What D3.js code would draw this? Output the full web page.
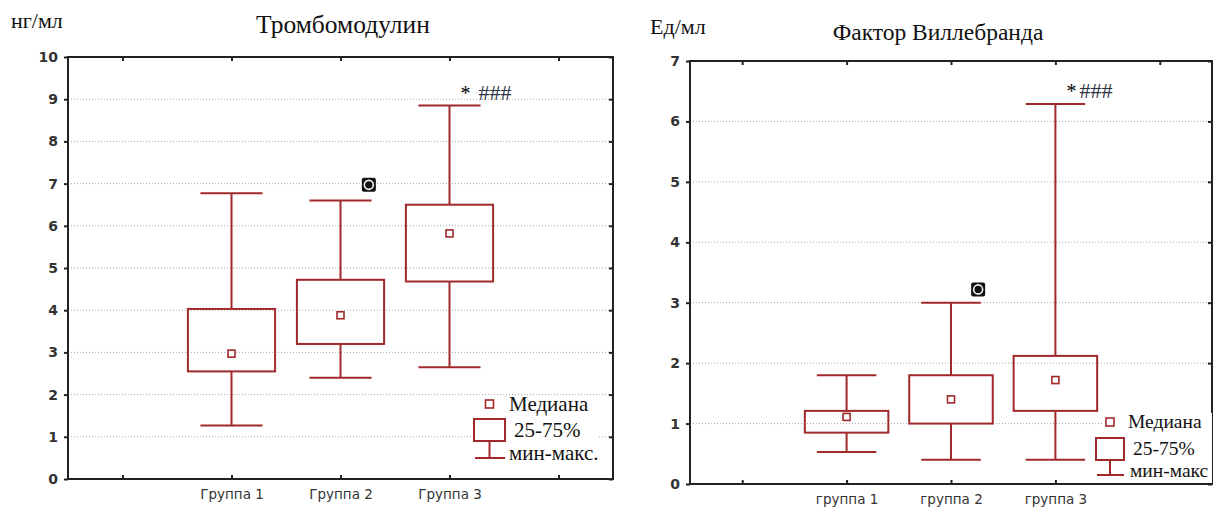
<!DOCTYPE html>
<html>
<head>
<meta charset="utf-8">
<script src="https://cdn.jsdelivr.net/npm/d3@7"></script>
<style>
  html, body { margin: 0; padding: 0; background: #fff; }
  svg { display: block; }
</style>
</head>
<body>
<svg id="chart" width="1213" height="508"></svg>
<script>
// Thrombomodulin (ng/ml) by group
const tmCategories = ["Группа 1", "Группа 2", "Группа 3"];
const tmMin    = [1.27, 2.40, 2.65];
const tmQ1     = [2.55, 3.20, 4.68];
const tmMedian = [2.97, 3.88, 5.82];
const tmQ3     = [4.03, 4.72, 6.50];
const tmMax    = [6.77, 6.60, 8.85];
const tmOutliers = [{ group: "Группа 2", value: 6.97 }];
const tmNotes = [{ group: "Группа 3", star: "*", hash: "###" }];
const tmTicks = [0, 1, 2, 3, 4, 5, 6, 7, 8, 9, 10];

// Von Willebrand factor (U/ml) by group
const vwfCategories = ["группа 1", "группа 2", "группа 3"];
const vwfMin    = [0.53, 0.40, 0.40];
const vwfQ1     = [0.85, 1.00, 1.21];
const vwfMedian = [1.11, 1.40, 1.72];
const vwfQ3     = [1.21, 1.80, 2.12];
const vwfMax    = [1.80, 3.00, 6.29];
const vwfOutliers = [{ group: "группа 2", value: 3.22 }];
const vwfNotes = [{ group: "группа 3", star: "*", hash: "###" }];
const vwfTicks = [0, 1, 2, 3, 4, 5, 6, 7];

const legendLabels = ["Медиана", "25-75%"];

const RED = "#a1282b";
const AXIS = "#222";
const TICKTXT = "#333";
const SERIF = "'Liberation Serif', 'Times New Roman', serif";
const SANS = "'DejaVu Sans', Verdana, sans-serif";

const svg = d3.select("#chart");

function drawPanel(cfg) {
  const g = svg.append("g");
  const { left, right, top, bottom } = cfg.frame;

  // five slots: blank, three groups, blank
  const slots = ["_pre", ...cfg.categories, "_post"];
  const x = d3.scalePoint().domain(slots).range([left, right]).padding(0.5);
  const step = x.step();
  const y = d3.scaleLinear().domain([0, d3.max(cfg.ticks)]).range([bottom, top]);
  const label = d => (d.startsWith("_") ? "" : d);

  // dotted grid
  g.append("g").selectAll("line")
    .data(cfg.ticks.filter(t => t > 0 && t < d3.max(cfg.ticks)))
    .join("line")
    .attr("x1", left).attr("x2", right)
    .attr("y1", d => y(d)).attr("y2", d => y(d))
    .attr("stroke", "#a8a8a8").attr("stroke-width", 1)
    .attr("stroke-dasharray", "1,2");

  // axes
  const yAxis = g.append("g").attr("transform", `translate(${left},0)`)
    .call(d3.axisLeft(y).tickValues(cfg.ticks).tickSize(4).tickPadding(6).tickFormat(d3.format("d")));
  const yAxisR = g.append("g").attr("transform", `translate(${right},0)`)
    .call(d3.axisRight(y).tickValues(cfg.ticks).tickSize(-4).tickFormat(""));
  const xAxis = g.append("g").attr("transform", `translate(0,${bottom})`)
    .call(d3.axisBottom(x).tickSize(-4).tickPadding(10).tickFormat(label));
  const xAxisT = g.append("g").attr("transform", `translate(0,${top})`)
    .call(d3.axisTop(x).tickSize(-4).tickFormat(""));

  [yAxis, yAxisR, xAxis, xAxisT].forEach(a => {
    a.select(".domain").remove();
    a.selectAll(".tick line").attr("stroke", AXIS).attr("stroke-width", 2);
  });
  yAxis.selectAll("text").attr("font-family", SANS).attr("font-size", 14)
    .attr("fill", TICKTXT).attr("font-weight", "bold");
  xAxis.selectAll("text").attr("font-family", SANS).attr("font-size", 13.5)
    .attr("fill", TICKTXT);

  // frame
  g.append("rect").attr("x", left).attr("y", top)
    .attr("width", right - left).attr("height", bottom - top)
    .attr("fill", "none").attr("stroke", AXIS).attr("stroke-width", 2);

  const rows = cfg.categories.map((c, i) => ({
    cat: c, min: cfg.min[i], q1: cfg.q1[i], med: cfg.median[i], q3: cfg.q3[i], max: cfg.max[i]
  }));
  const boxW = step * 0.8, capW = step * 0.57, medS = 7;

  const boxes = g.append("g").selectAll("g").data(rows).join("g");
  // whiskers
  boxes.append("line").attr("x1", d => x(d.cat)).attr("x2", d => x(d.cat))
    .attr("y1", d => y(d.max)).attr("y2", d => y(d.q3));
  boxes.append("line").attr("x1", d => x(d.cat)).attr("x2", d => x(d.cat))
    .attr("y1", d => y(d.q1)).attr("y2", d => y(d.min));
  boxes.append("line").attr("x1", d => x(d.cat) - capW / 2).attr("x2", d => x(d.cat) + capW / 2)
    .attr("y1", d => y(d.max)).attr("y2", d => y(d.max));
  boxes.append("line").attr("x1", d => x(d.cat) - capW / 2).attr("x2", d => x(d.cat) + capW / 2)
    .attr("y1", d => y(d.min)).attr("y2", d => y(d.min));
  // interquartile box
  boxes.append("rect").attr("x", d => x(d.cat) - boxW / 2).attr("y", d => y(d.q3))
    .attr("width", boxW).attr("height", d => y(d.q1) - y(d.q3))
    .attr("fill", "none");
  // median
  boxes.append("rect").attr("x", d => x(d.cat) - medS / 2).attr("y", d => y(d.med) - medS / 2)
    .attr("width", medS).attr("height", medS).attr("fill", "#fff").attr("stroke-width", 1.6);
  boxes.selectAll("line, rect").attr("stroke", RED).filter(function () {
    return !this.getAttribute("stroke-width");
  }).attr("stroke-width", 2);

  // outliers
  const out = g.append("g").selectAll("g").data(cfg.outliers).join("g")
    .attr("transform", d => `translate(${x(d.group) + step * 0.26},${y(d.value)})`);
  out.append("rect").attr("x", -7).attr("y", -7).attr("width", 14).attr("height", 14)
    .attr("rx", 2).attr("fill", "#111");
  out.append("circle").attr("r", 4.5).attr("fill", "#111")
    .attr("stroke", "#f2f2f2").attr("stroke-width", 1.6);

  // significance marks above the upper whisker
  const rowsByCat = new Map(rows.map(r => [r.cat, r]));
  const notes = g.append("g").selectAll("text").data(cfg.notes).join("text")
    .attr("x", d => x(d.group) + 11)
    .attr("y", d => y(rowsByCat.get(d.group).max) - 6)
    .attr("font-family", SERIF).attr("font-size", 22);
  notes.append("tspan").attr("fill", "#000").attr("font-size", 20).text(d => d.star);
  notes.append("tspan").attr("fill", "#2e3444").attr("dx", cfg.noteGap).text(d => d.hash);

  // titles
  g.append("text").attr("x", cfg.titlePos[0]).attr("y", cfg.titlePos[1])
    .attr("text-anchor", "middle").attr("font-family", SERIF).attr("font-size", cfg.titleSize)
    .attr("fill", "#111").text(cfg.title);
  g.append("text").attr("x", cfg.unitPos[0]).attr("y", cfg.unitPos[1])
    .attr("font-family", SERIF).attr("font-size", 22)
    .attr("fill", "#111").text(cfg.unit);

  // legend
  const L = cfg.legend;
  const lg = g.append("g").attr("transform", `translate(${L.x},${L.y})`);
  lg.append("rect").attr("x", L.bg[0]).attr("y", L.bg[1]).attr("width", L.bg[2]).attr("height", L.bg[3])
    .attr("fill", "#fff");
  const iw = L.iconW, cx = iw / 2;
  lg.append("rect").attr("x", cx - 4).attr("y", -4).attr("width", 8).attr("height", 8)
    .attr("fill", "#fff").attr("stroke", RED).attr("stroke-width", 1.6);
  lg.append("rect").attr("x", 0).attr("y", L.boxTop).attr("width", iw).attr("height", L.boxH)
    .attr("fill", "none").attr("stroke", RED).attr("stroke-width", 2);
  lg.append("line").attr("x1", cx).attr("x2", cx)
    .attr("y1", L.boxTop + L.boxH).attr("y2", L.capY)
    .attr("stroke", RED).attr("stroke-width", 2);
  lg.append("line").attr("x1", 1).attr("x2", iw).attr("y1", L.capY).attr("y2", L.capY)
    .attr("stroke", RED).attr("stroke-width", 2);
  const texts = [legendLabels[0], legendLabels[1], cfg.rangeLabel];
  lg.selectAll("text.lt").data(texts).join("text").attr("class", "lt")
    .attr("x", (d, i) => L.textX[i]).attr("y", (d, i) => L.textY[i])
    .attr("font-family", SERIF).attr("font-size", L.fontSize).attr("fill", "#111")
    .text(d => d);
}

drawPanel({
  frame: { left: 68, right: 613, top: 57, bottom: 479 },
  categories: tmCategories, min: tmMin, q1: tmQ1, median: tmMedian, q3: tmQ3, max: tmMax,
  outliers: tmOutliers, notes: tmNotes, ticks: tmTicks, noteGap: 8,
  title: "Тромбомодулин", titlePos: [343, 33], titleSize: 25.5,
  unit: "нг/мл", unitPos: [11, 28],
  rangeLabel: "мин-макс.",
  legend: {
    x: 474, y: 404, iconW: 31, boxTop: 15, boxH: 22, capY: 54, fontSize: 21,
    bg: [-2, -5, 126, 61],
    textX: [35, 40, 35], textY: [7, 33, 56]
  }
});

drawPanel({
  frame: { left: 690, right: 1212, top: 61, bottom: 484 },
  categories: vwfCategories, min: vwfMin, q1: vwfQ1, median: vwfMedian, q3: vwfQ3, max: vwfMax,
  outliers: vwfOutliers, notes: vwfNotes, ticks: vwfTicks, noteGap: 3,
  title: "Фактор Виллебранда", titlePos: [938, 40], titleSize: 23.5,
  unit: "Ед/мл", unitPos: [650, 34],
  rangeLabel: "мин-макс",
  legend: {
    x: 1096, y: 422, iconW: 28, boxTop: 16, boxH: 22, capY: 53, fontSize: 19.5,
    bg: [8, -9, 108, 70],
    textX: [32, 37, 34], textY: [6, 33, 55]
  }
});
</script>
</body>
</html>
